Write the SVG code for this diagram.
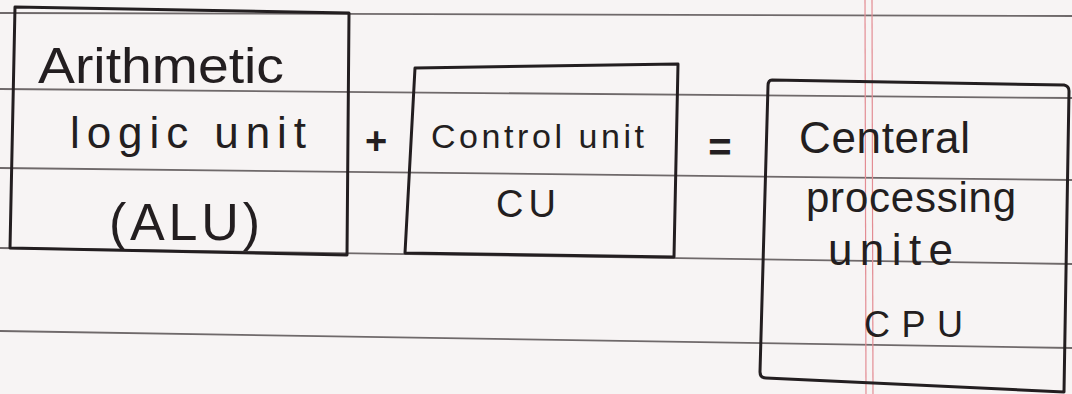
<svg xmlns="http://www.w3.org/2000/svg" width="1072" height="394" viewBox="0 0 1072 394">
  <style>
    .rule { stroke: #6f696a; stroke-width: 1.8; fill: none; }
    .margin { stroke: #e38c93; stroke-width: 1.2; fill: none; }
    .box { stroke: #231e20; stroke-width: 3; fill: none; stroke-linejoin: round; stroke-linecap: round; }
    .hand { font-family: "Liberation Sans", "DejaVu Sans", sans-serif; fill: #231e20; }
  </style>
  <rect x="0" y="0" width="1072" height="394" fill="#f7f4f4"/>
  <g id="paper">
    <line class="rule" x1="0" y1="13" x2="1072" y2="16"/>
    <line class="rule" x1="0" y1="89" x2="1072" y2="98"/>
    <line class="rule" x1="0" y1="168" x2="1072" y2="180"/>
    <line class="rule" x1="0" y1="248" x2="1072" y2="264"/>
    <line class="rule" x1="0" y1="331" x2="1072" y2="348"/>
    <line class="margin" x1="865" y1="0" x2="866" y2="394"/>
    <line class="margin" x1="872" y1="0" x2="873" y2="394"/>
  </g>
  <g id="alu">
    <path class="box" d="M15,7 L349,13 L347,255 L10,248 Z"/>
    <text class="hand" x="38" y="83" font-size="50" textLength="246" lengthAdjust="spacingAndGlyphs">Arithmetic</text>
    <text class="hand" x="70" y="148" font-size="44" textLength="236" lengthAdjust="spacing">logic unit</text>
    <text class="hand" x="109" y="240" font-size="52" textLength="151" lengthAdjust="spacing">(ALU)</text>
  </g>
  <g id="op-plus">
    <text class="hand" x="376" y="154" font-size="38" font-weight="bold" text-anchor="middle">+</text>
  </g>
  <g id="cu">
    <path class="box" d="M415,68 L678,64 L674,257 L405,253 Z"/>
    <text class="hand" x="431" y="148" font-size="34" textLength="213" lengthAdjust="spacing">Control unit</text>
    <text class="hand" x="496" y="217" font-size="38" textLength="60" lengthAdjust="spacing">CU</text>
  </g>
  <g id="op-equals">
    <text class="hand" x="720" y="161" font-size="40" font-weight="bold" text-anchor="middle">=</text>
  </g>
  <g id="cpu">
    <path class="box" d="M772,80 L1064,85 Q1069,86 1069,91 L1064,392 L766,378 Q760,378 760,372 L768,86 Q768,80 772,80 Z"/>
    <text class="hand" x="799" y="153" font-size="44" textLength="171" lengthAdjust="spacing">Centeral</text>
    <text class="hand" x="806" y="212" font-size="42" textLength="210" lengthAdjust="spacing">processing</text>
    <text class="hand" x="828" y="265" font-size="44" textLength="125" lengthAdjust="spacing">unite</text>
    <text class="hand" x="864" y="337" font-size="36" textLength="99" lengthAdjust="spacing">CPU</text>
  </g>
</svg>
